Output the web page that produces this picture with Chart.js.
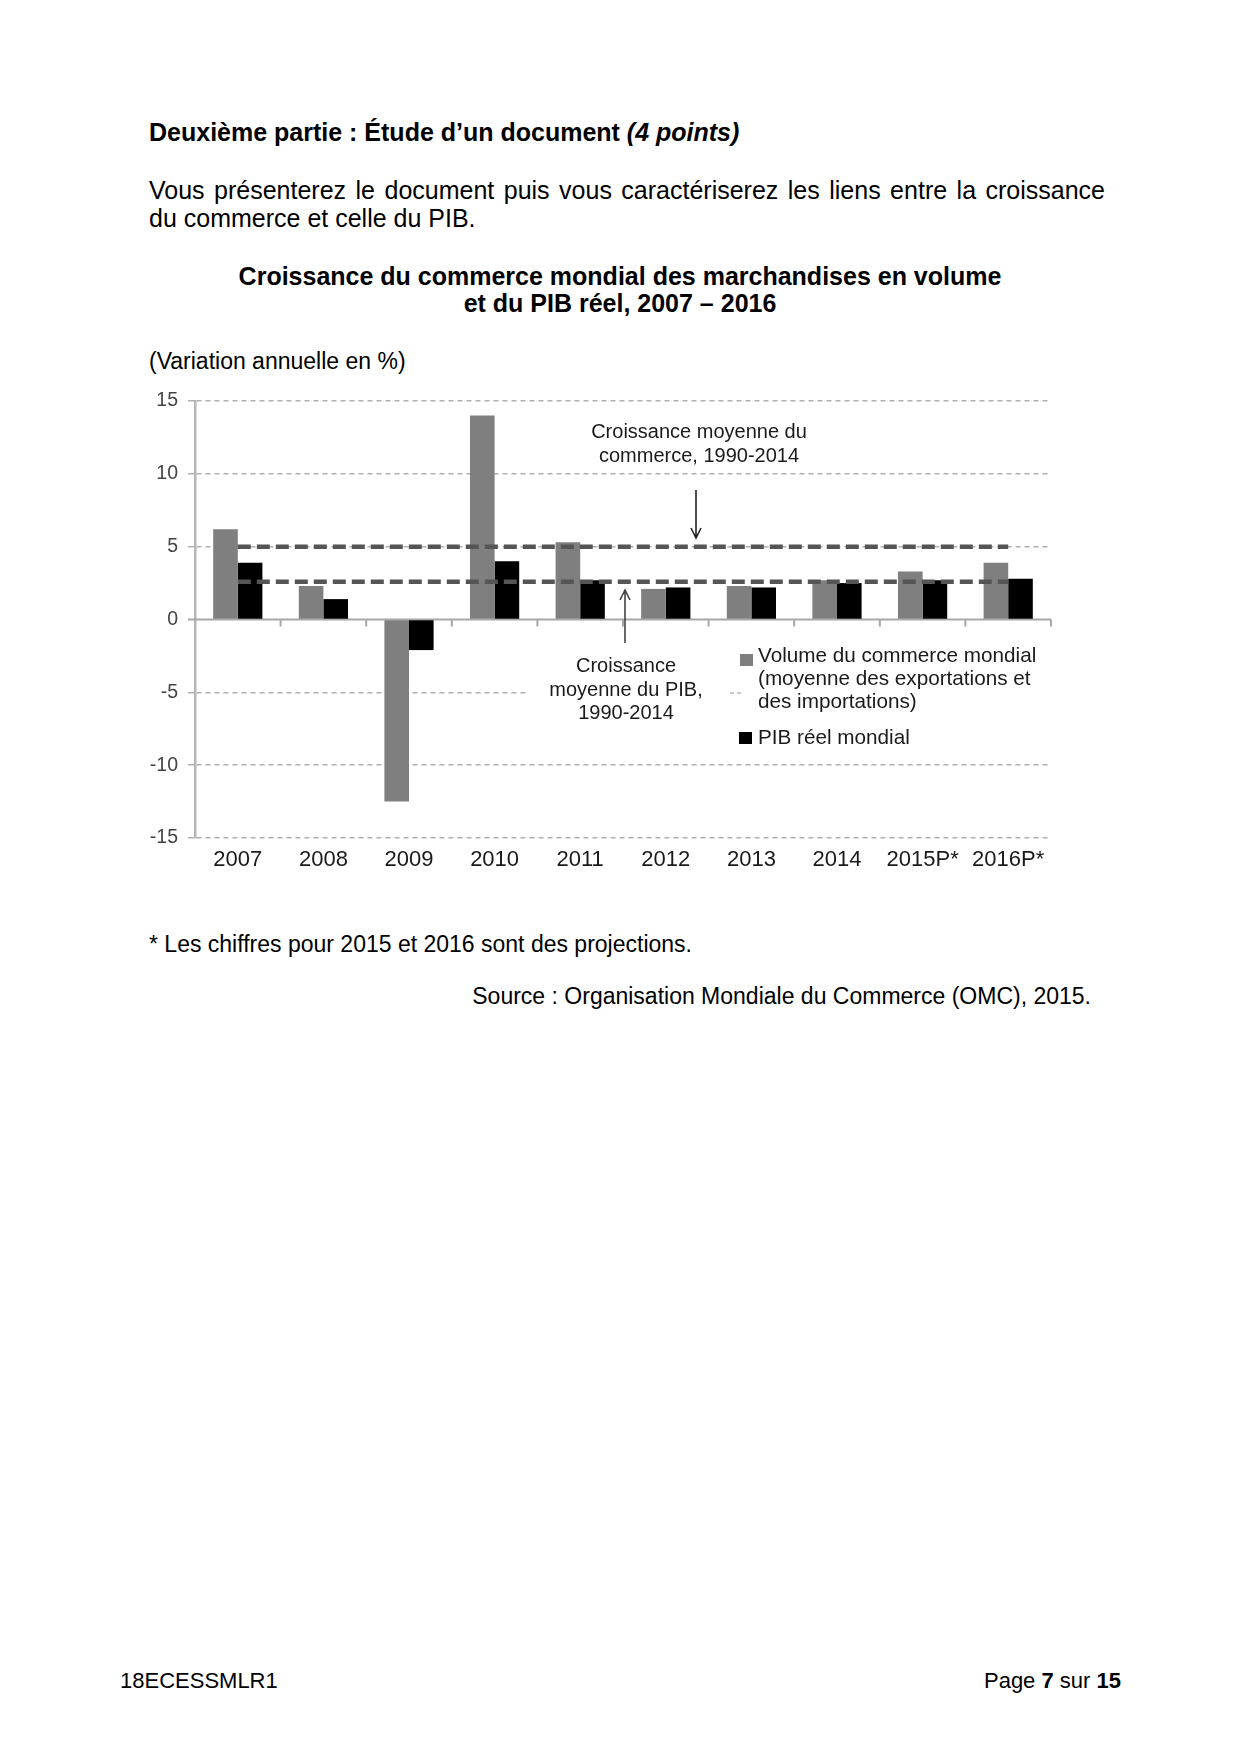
<!DOCTYPE html>
<html><head><meta charset="utf-8">
<script src="https://cdn.jsdelivr.net/npm/chart.js@4.4.0/dist/chart.umd.min.js"></script>
<style>
html,body{margin:0;padding:0;background:#fff;}
body{width:1240px;height:1754px;position:relative;font-family:"Liberation Sans",Arial,sans-serif;color:#000;overflow:hidden;}
.t{position:absolute;white-space:nowrap;}
#wrap{position:absolute;left:100px;top:370px;width:1040px;height:530px;}
</style></head><body>
<div class="t" style="left:149px;top:117px;font-size:25px;line-height:30px;font-weight:bold;">Deuxième partie : Étude d’un document <i>(4 points)</i></div>
<div class="t" style="left:149px;top:175px;width:956px;font-size:25px;line-height:30px;text-align:justify;text-align-last:justify;white-space:normal;">Vous présenterez le document puis vous caractériserez les liens entre la croissance</div>
<div class="t" style="left:149px;top:203px;font-size:25px;line-height:30px;">du commerce et celle du PIB.</div>
<div class="t" style="left:0;top:261px;width:1240px;text-align:center;font-size:25px;line-height:30px;font-weight:bold;">Croissance du commerce mondial des marchandises en volume</div>
<div class="t" style="left:0;top:288px;width:1240px;text-align:center;font-size:25px;line-height:30px;font-weight:bold;">et du PIB réel, 2007 – 2016</div>
<div class="t" style="left:149px;top:347px;font-size:23px;line-height:28px;">(Variation annuelle en %)</div>
<div id="wrap"><canvas id="c" width="1040" height="530"></canvas></div>
<div class="t" style="left:149px;top:930px;font-size:23px;line-height:28px;">* Les chiffres pour 2015 et 2016 sont des projections.</div>
<div class="t" style="right:149px;top:982px;font-size:23px;line-height:28px;">Source : Organisation Mondiale du Commerce (OMC), 2015.</div>
<div class="t" style="left:120px;top:1667px;font-size:22px;line-height:28px;">18ECESSMLR1</div>
<div class="t" style="right:119px;top:1667px;font-size:22px;line-height:28px;">Page <b>7</b> sur <b>15</b></div>
<script>
const categories = ['2007','2008','2009','2010','2011','2012','2013','2014','2015P*','2016P*'];
const tradeVolume = [6.2, 2.3, -12.5, 14.0, 5.3, 2.1, 2.3, 2.7, 3.3, 3.9];
const realGdp = [3.9, 1.4, -2.1, 4.0, 2.7, 2.2, 2.2, 2.5, 2.7, 2.8];
const tradeAvg19902014 = [5.0, 5.0, 5.0, 5.0, 5.0, 5.0, 5.0, 5.0, 5.0, 5.0];
const gdpAvg19902014 = [2.6, 2.6, 2.6, 2.6, 2.6, 2.6, 2.6, 2.6, 2.6, 2.6];
const yTicks = [-15, -10, -5, 0, 5, 10, 15];

const FONT = '"Liberation Sans", Arial, sans-serif';

function arrow(ctx, x, yFrom, yTo){
  const dir = yTo > yFrom ? 1 : -1;
  ctx.beginPath();
  ctx.moveTo(x, yFrom); ctx.lineTo(x, yTo);
  ctx.moveTo(x - 5, yTo - dir*10); ctx.lineTo(x, yTo); ctx.lineTo(x + 5, yTo - dir*10);
  ctx.stroke();
}

const decor = {
  id: 'decor',
  beforeDatasetsDraw(chart){
    const {ctx, chartArea:a, scales:{x, y}} = chart;
    const y0 = y.getPixelForValue(0);
    ctx.save();
    const ym5 = y.getPixelForValue(-5);
    ctx.fillStyle = '#fff';
    ctx.fillRect(428, ym5 - 5, a.right + 30 - 428, 10);
    ctx.strokeStyle = '#a8a8a8'; ctx.lineWidth = 2;
    ctx.beginPath();
    ctx.moveTo(a.left - 7, y0); ctx.lineTo(a.right, y0);
    const step = (a.right - a.left) / categories.length;
    for (let i = 1; i <= categories.length; i++){
      const px = a.left + i*step;
      ctx.moveTo(px, y0); ctx.lineTo(px, y0 + 7);
    }
    ctx.stroke();
    ctx.restore();
  },
  afterDraw(chart){
    const {ctx} = chart;
    ctx.save();
    ctx.fillStyle = '#1a1a1a';
    ctx.strokeStyle = '#222';
    ctx.lineWidth = 1.6;
    ctx.font = '20px ' + FONT;
    ctx.textAlign = 'center'; ctx.textBaseline = 'middle';
    ctx.fillText('Croissance moyenne du', 599, 62);
    ctx.fillText('commerce, 1990-2014', 599, 86);
    arrow(ctx, 596, 120, 168);
    ctx.fillText('Croissance', 526, 296);
    ctx.fillText('moyenne du PIB,', 526, 320);
    ctx.fillText('1990-2014', 526, 343);
    ctx.strokeStyle = '#444';
    arrow(ctx, 525, 273, 220);
    ctx.textAlign = 'left';
    ctx.fillStyle = '#7f7f7f';
    ctx.fillRect(640, 284, 13, 12);
    ctx.fillStyle = '#000';
    ctx.fillRect(639, 362, 13, 12);
    ctx.strokeStyle = '#bbb'; ctx.lineWidth = 1.5; ctx.setLineDash([4,3]);
    ctx.beginPath(); ctx.moveTo(630, 323); ctx.lineTo(644, 323); ctx.stroke();
    ctx.setLineDash([]);
    ctx.fillStyle = '#1a1a1a';
    ctx.font = '20.7px ' + FONT;
    ctx.fillText('Volume du commerce mondial', 658, 286);
    ctx.fillText('(moyenne des exportations et', 658, 309);
    ctx.fillText('des importations)', 658, 332);
    ctx.fillText('PIB réel mondial', 658, 368);
    ctx.restore();
  }
};

new Chart(document.getElementById('c'), {
  type: 'bar',
  data: {
    labels: categories,
    datasets: [
      {type:'line', label:'Croissance moyenne du commerce, 1990-2014', data: tradeAvg19902014,
       borderColor:'#555', borderWidth:4.5, borderDash:[13,6], pointRadius:0, fill:false, order:0},
      {type:'line', label:'Croissance moyenne du PIB, 1990-2014', data: gdpAvg19902014,
       borderColor:'#555', borderWidth:4.5, borderDash:[13,6], pointRadius:0, fill:false, order:0},
      {label:'Volume du commerce mondial (moyenne des exportations et des importations)', data: tradeVolume,
       backgroundColor:'#7f7f7f', borderWidth:0, order:1},
      {label:'PIB réel mondial', data: realGdp, backgroundColor:'#000', borderWidth:0, order:1}
    ]
  },
  options: {
    responsive:false, animation:false,
    layout:{padding:{top:31, right:89, left:0, bottom:0}},
    datasets:{bar:{barPercentage:1.0, categoryPercentage:0.575}},
    plugins:{legend:{display:false}, tooltip:{enabled:false}},
    scales:{
      x:{
        grid:{display:false, drawTicks:false},
        border:{display:false},
        ticks:{color:'#1a1a1a', font:{family:FONT, size:22}, padding:9, maxRotation:0, autoSkip:false},
        afterFit(s){ s.height = 62; }
      },
      y:{
        min:-15, max:15,
        afterBuildTicks(s){ s.ticks = yTicks.map(v => ({value:v})); },
        grid:{color: c => (c.tick && c.tick.value === 0) ? 'rgba(0,0,0,0)' : '#b0b0b0', lineWidth:1.5, tickLength:7},
        border:{display:true, color:'#b5b5b5', width:2.5, dash:[5,4]},
        ticks:{color:'#444', font:{family:FONT, size:19.5}, padding:10},
        afterFit(s){ s.width = 95; }
      }
    }
  },
  plugins:[decor]
});
</script>
</body></html>
